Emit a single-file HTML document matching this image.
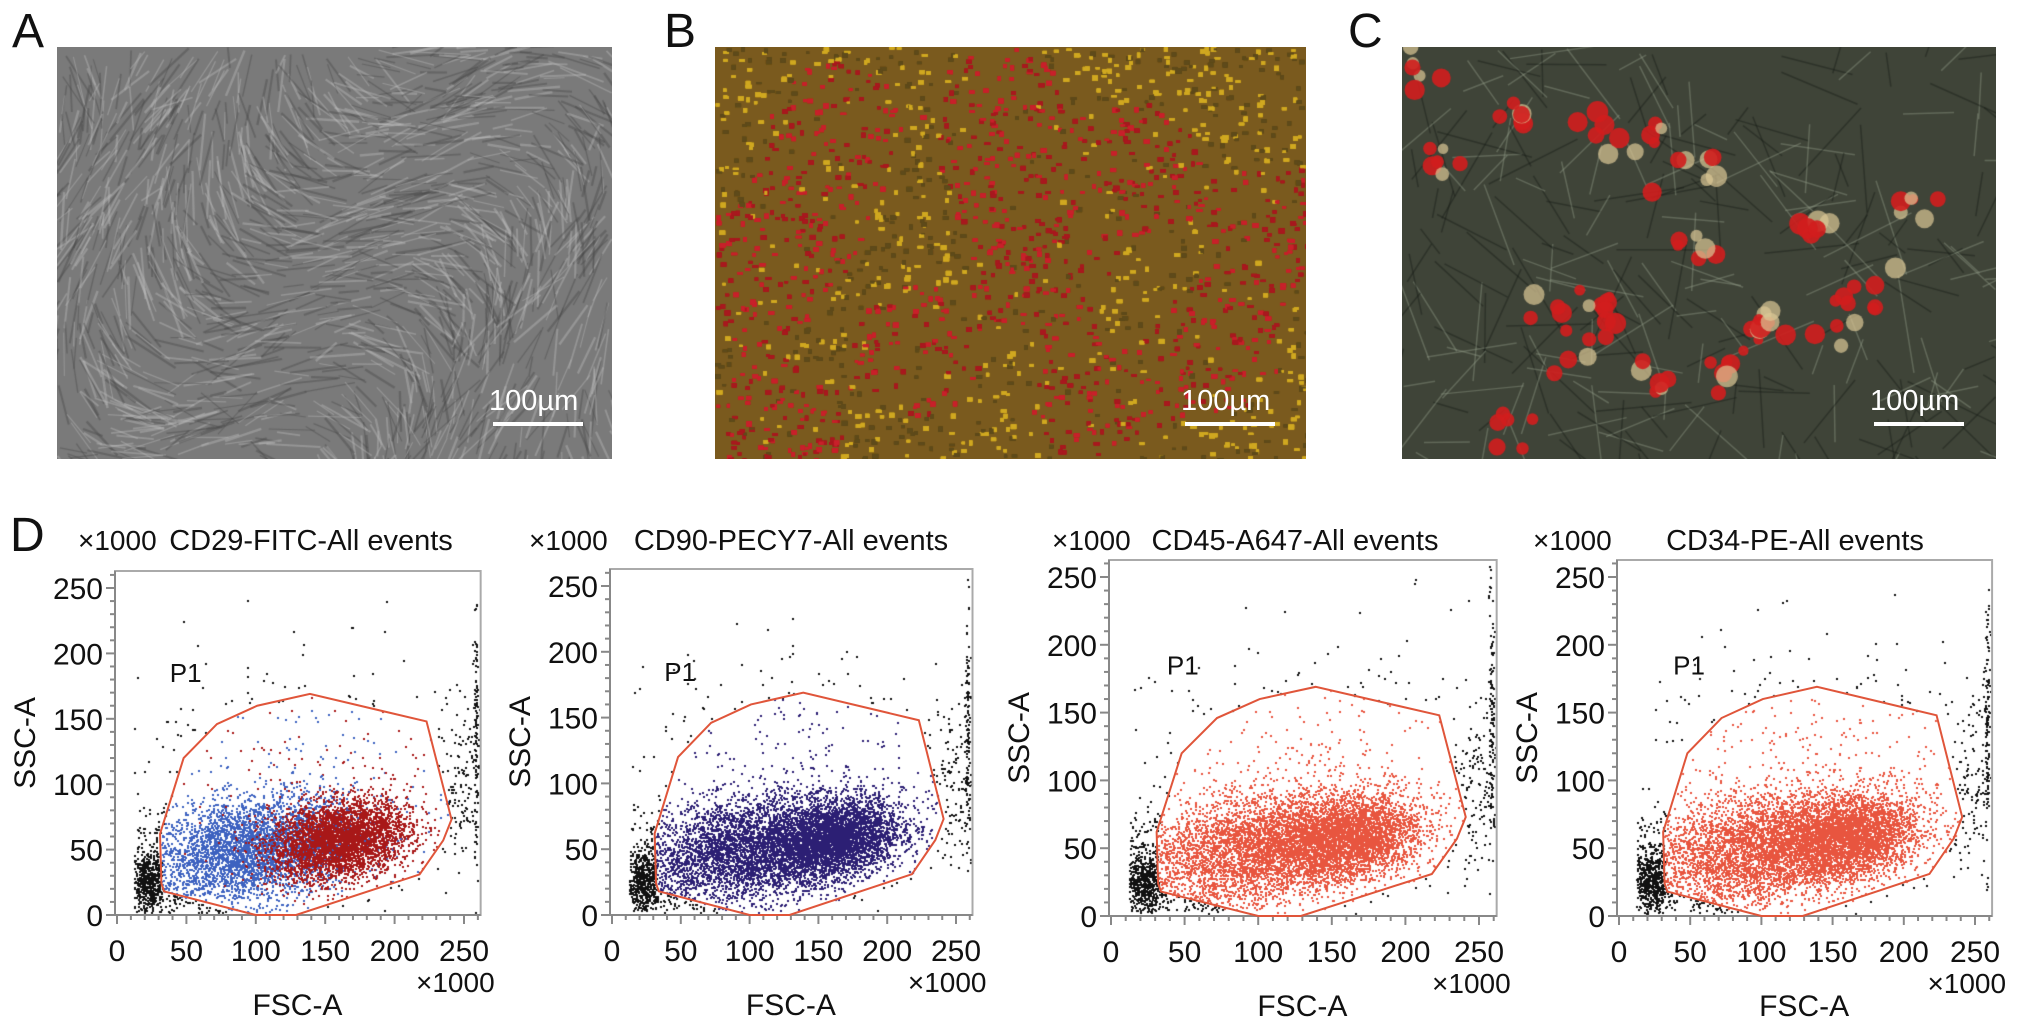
<!DOCTYPE html>
<html><head><meta charset="utf-8">
<style>
html,body{margin:0;padding:0;background:#fff;}
body{width:2032px;height:1020px;position:relative;overflow:hidden;font-family:"Liberation Sans",Arial,sans-serif;}
.photo{position:absolute;overflow:hidden;}
.photo canvas{position:absolute;left:0;top:0;}
.bar-label{position:absolute;color:#fff;font-size:29px;}
.bar-line{position:absolute;height:4px;background:#fff;}
.plabel{position:absolute;font-size:48px;color:#111;}
svg text{font-family:"Liberation Sans",Arial,sans-serif;}
</style></head>
<body>
<div class="plabel" style="left:12px;top:4px">A</div>
<div class="plabel" style="left:664px;top:4px">B</div>
<div class="plabel" style="left:1348px;top:4px">C</div>
<div class="plabel" style="left:10px;top:508px">D</div>

<div class="photo" id="photoA" style="left:57px;top:47px;width:555px;height:412px;background:#7a7a7a">
  <canvas id="cA" width="555" height="412"></canvas>
  <div class="bar-label" style="left:432px;top:338px">100µm</div>
  <div class="bar-line" style="left:436px;top:375px;width:90px"></div>
</div>
<div class="photo" id="photoB" style="left:715px;top:47px;width:591px;height:412px;background:#7a5a1e">
  <canvas id="cB" width="591" height="412"></canvas>
  <div class="bar-label" style="left:466px;top:338px">100µm</div>
  <div class="bar-line" style="left:470px;top:375px;width:90px"></div>
</div>
<div class="photo" id="photoC" style="left:1402px;top:47px;width:594px;height:412px;background:#3f4438">
  <canvas id="cC" width="594" height="412"></canvas>
  <div class="bar-label" style="left:468px;top:338px">100µm</div>
  <div class="bar-line" style="left:472px;top:375px;width:90px"></div>
</div>

<canvas id="dots" width="2032" height="1020" style="position:absolute;left:0;top:0"></canvas>
<svg id="plots" width="2032" height="1020" style="position:absolute;left:0;top:0"></svg>

<script>
// ---- chart data ----
const panelTitles = ["CD29-FITC-All events","CD90-PECY7-All events","CD45-A647-All events","CD34-PE-All events"];
const tickValues = [0,50,100,150,200,250];
const tickLabels = ["0","50","100","150","200","250"];
const gateX = [32,31,48,72,101,139,223,241,235,218,129,100,34];
const gateY = [24,62,120,146,160,169,148,73,57,31,-1,-1,18];
// population clusters: center x, center y, spread x, spread y, count
const clusterCX = [95,160,22,140,248,258];
const clusterCY = [50,58,25,115,100,140];
const clusterSX = [38,25,7,65,9,1];
const clusterSY = [20,15,11,45,30,50];
const clusterN  = [3800,3800,500,300,120,120];
const panelColorsA = ["#3d62c0","#2c1f74","#e8553f","#e8553f"];
const panelColorsB = ["#a81818","#2c1f74","#e8553f","#e8553f"];

// layout (not data)
const layout = [
  {x0:117,x250:464,y0:915,y250:588,top:571,title:311,mx:78},
  {x0:612,x250:956,y0:915,y250:586,top:569,title:791,mx:529},
  {x0:1111,x250:1479,y0:916,y250:577,top:560,title:1295,mx:1052},
  {x0:1619,x250:1975,y0:916,y250:577,top:560,title:1795,mx:1533}
];

let seed=12345;
function rnd(){seed=(seed*1103515245+12345)&0x7fffffff;return seed/0x7fffffff;}
function gauss(){let u=rnd()||1e-6,v=rnd();return Math.sqrt(-2*Math.log(u))*Math.cos(2*Math.PI*v);}

const svg=document.getElementById('plots');
const NS="http://www.w3.org/2000/svg";
function mk(tag,attrs,parent){const e=document.createElementNS(NS,tag);for(const k in attrs)e.setAttribute(k,attrs[k]);(parent||svg).appendChild(e);return e;}

function inside(px,py,poly){let c=false;for(let i=0,j=poly.length-1;i<poly.length;j=i++){const [xi,yi]=poly[i],[xj,yj]=poly[j];if(((yi>py)!=(yj>py))&&(px<(xj-xi)*(py-yi)/(yj-yi)+xi))c=!c;}return c;}

const ctx=document.getElementById('dots').getContext('2d');

layout.forEach((L,p)=>{
  const sx=v=>L.x0+(v/250)*(L.x250-L.x0);
  const sy=v=>L.y0-(v/250)*(L.y0-L.y250);
  const right=sx(262), bottom=L.y0;
  const g=mk('g',{});
  
  
  mk('rect',{x:L.x0-2,y:L.top,width:right-L.x0+2,height:bottom-L.top,fill:'none',stroke:'#aaa','stroke-width':2},g);
  mk('line',{x1:L.x0-2,y1:L.top,x2:L.x0-2,y2:bottom,stroke:'#888','stroke-width':2},g);
  mk('line',{x1:L.x0-2,y1:bottom,x2:right,y2:bottom,stroke:'#888','stroke-width':2},g);
  for(let v=0;v<=260;v+=10){
    const major=v%50===0;
    mk('line',{x1:L.x0-2-(major?9:5),y1:sy(v),x2:L.x0-2,y2:sy(v),stroke:'#888','stroke-width':2},g);
    mk('line',{x1:sx(v),y1:bottom,x2:sx(v),y2:bottom+(major?9:5),stroke:'#888','stroke-width':2},g);
  }
  tickValues.forEach((v,i)=>{
    const ty=mk('text',{x:L.x0-14,y:sy(v)+11,'text-anchor':'end','font-size':30,fill:'#111'},g);
    ty.textContent=tickLabels[i];
    
    
    const tx=mk('text',{x:sx(v),y:bottom+46,'text-anchor':'middle','font-size':30,fill:'#111'},g);
    tx.textContent=tickLabels[i];
    
    
  });
  const t=mk('text',{x:L.title,y:550,'text-anchor':'middle','font-size':29,fill:'#111'},g);
  t.textContent=panelTitles[p];
  
  
  const m1=mk('text',{x:L.mx,y:550,'text-anchor':'start','font-size':28,fill:'#111'},g);
  m1.textContent='×1000';
  
  
  const m2=mk('text',{x:sx(262)+14,y:bottom+77,'text-anchor':'end','font-size':28,fill:'#111'},g);
  m2.textContent='×1000';
  
  
  const xt=mk('text',{x:sx(130),y:bottom+100,'text-anchor':'middle','font-size':30,fill:'#111'},g);
  xt.textContent='FSC-A';
  
  
  const yc=(L.top+bottom)/2;
  const yt=mk('text',{x:L.x0-82,y:yc,'text-anchor':'middle','font-size':30,fill:'#111',transform:`rotate(-90 ${L.x0-82} ${yc})`},g);
  yt.textContent='SSC-A';
  
  
  const p1=mk('text',{x:sx(38),y:sy(178),'font-size':26,fill:'#111'},g);
  p1.textContent='P1';
  
  

  const poly=gateX.map((x,i)=>[x,gateY[i]]);
  for(let c=0;c<clusterCX.length;c++){
    for(let k=0;k<clusterN[c];k++){
      let x=clusterCX[c]+gauss()*clusterSX[c];
      let y=clusterCY[c]+gauss()*clusterSY[c]+(c<2?(x-clusterCX[c])*0.15:0);
      if(x<12||x>261||y<2||y>262)continue;
      const inG=inside(x,y,poly);
      let col;
      if(!inG)col='#111';
      else if(p===0)col=(c===1||(c===3&&rnd()<0.5))?panelColorsB[p]:panelColorsA[p];
      else col=panelColorsA[p];
      if(c===2&&inG&&rnd()<0.5)continue;
      ctx.fillStyle=col;
      ctx.fillRect(Math.round(sx(x)),Math.round(sy(y)),2,2);
    }
  }
  const pts=gateX.map((x,i)=>sx(x)+','+sy(Math.max(gateY[i],0))).join(' ');
  const gp=mk('polygon',{points:pts,fill:'none',stroke:'#e0553a','stroke-width':2},g);
  
  
});

// ---- micrograph textures ----
(function(){
  let c=document.getElementById('cA').getContext('2d');
  for(let i=0;i<1400;i++){
    const x=rnd()*555,y=rnd()*412,a=Math.sin(x/90+y/120)*1.2+0.9+gauss()*0.25,l=20+rnd()*40;
    c.strokeStyle=rnd()<0.5?'rgba(190,190,190,0.4)':'rgba(70,70,70,0.4)';
    c.lineWidth=1+rnd()*1.5;
    c.beginPath();c.moveTo(x,y);c.lineTo(x+Math.cos(a)*l,y+Math.sin(a)*l);c.stroke();
  }
  c=document.getElementById('cB').getContext('2d');
  const reds=[[120,80],[280,60],[420,120],[330,220],[60,380],[500,300],[200,300],[90,170],[560,180],[380,360],[300,140],[40,230]];
  for(let i=0;i<14000;i++){
    const x=rnd()*591,y=rnd()*412;
    let near=0;reds.forEach(r=>{const d=Math.hypot(x-r[0],y-r[1]);if(d<95)near+=1-d/95;});
    c.fillStyle=near>0.3&&rnd()<0.85?(rnd()<0.5?'#c8202a':'#a8181e'):(rnd()<0.55?'#d0a820':'#5e4a1a');
    c.fillRect(x,y,3+rnd()*3,2+rnd()*3);
  }
  c=document.getElementById('cC').getContext('2d');
  for(let i=0;i<250;i++){
    const x=rnd()*594,y=rnd()*412,a=gauss()*1.0+0.6,l=30+rnd()*70;
    c.strokeStyle=rnd()<0.5?'rgba(150,160,140,0.4)':'rgba(20,25,20,0.4)';
    c.lineWidth=1.5;
    c.beginPath();c.moveTo(x,y);c.lineTo(x+Math.cos(a)*l,y+Math.sin(a)*l);c.stroke();
  }
  const blobs=[[20,30],[110,60],[200,80],[245,95],[290,200],[340,290],[400,180],[320,340],[460,250],[210,260],[160,250],[180,300],[520,150],[260,330],[40,120],[100,380],[380,260],[440,280],[300,120]];
  blobs.forEach(b=>{
    for(let k=0;k<6;k++){
      const x=b[0]+gauss()*14,y=b[1]+gauss()*14;
      c.fillStyle=rnd()<0.3?'rgba(220,200,150,0.7)':'rgba(210,30,30,0.9)';
      c.beginPath();c.arc(x,y,5+rnd()*6,0,Math.PI*2);c.fill();
    }
  });
})();
</script>
</body></html>
